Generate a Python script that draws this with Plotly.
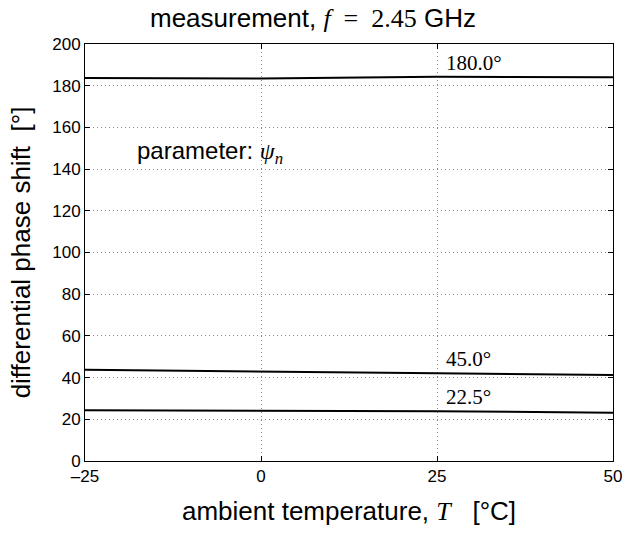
import plotly.graph_objects as go

# Ambient temperature sweep (°C)
temperature = [-25, 0, 25, 50]

# Measured differential phase shift (degrees) for each nominal setting psi_n
phase_180 = [183.7, 183.4, 184.3, 184.0]
phase_45 = [43.8, 42.8, 42.1, 41.3]
phase_22 = [24.4, 24.1, 23.9, 23.1]

series = [
    ("180.0°", phase_180),
    ("45.0°", phase_45),
    ("22.5°", phase_22),
]

x_ticks = [-25, 0, 25, 50]
x_tick_text = ["–25", "0", "25", "50"]
y_ticks = list(range(0, 201, 20))

SANS = "Liberation Sans, Arial, sans-serif"
SERIF = "Liberation Serif, Times New Roman, serif"

fig = go.Figure()
for name, vals in series:
    fig.add_trace(go.Scatter(
        x=temperature, y=vals, mode="lines", name=name,
        line=dict(color="black", width=2), showlegend=False,
    ))
    # value label sitting just above the curve, right of the 25 °C grid line
    fig.add_annotation(
        x=26, y=vals[2], text=name, showarrow=False,
        xanchor="left", yanchor="middle", yshift=14,
        font=dict(family=SERIF, size=21, color="black"),
    )

fig.add_annotation(
    x=-17.9, y=148,
    text=("parameter: <span style='font-family:Liberation Serif'><i>ψ</i>"
          "<sub><i>n</i></sub></span>"),
    showarrow=False, xanchor="left", yanchor="middle",
    font=dict(family=SANS, size=24, color="black"),
)

axis_common = dict(
    showline=True, linecolor="black", linewidth=1, mirror="ticks",
    ticks="inside", ticklen=5, tickcolor="black",
    showgrid=True, gridcolor="#8c8c8c", griddash="1px,3px", gridwidth=1,
    zeroline=False, automargin=False,
    tickfont=dict(family=SANS, size=17, color="black"),
)

fig.update_xaxes(
    range=[-25, 50], tickvals=x_ticks, ticktext=x_tick_text,
    title=dict(
        text=("ambient temperature, <span style='font-family:Liberation Serif'>"
              "<i>T</i></span>&nbsp;&nbsp;&nbsp;[°C]"),
        font=dict(family=SANS, size=26, color="black"), standoff=16,
    ),
    **axis_common,
)
fig.update_yaxes(
    range=[0, 200], tickvals=y_ticks,
    title=dict(
        text="differential phase shift&nbsp;&nbsp;[°]",
        font=dict(family=SANS, size=26, color="black"), standoff=14,
    ),
    **axis_common,
)

fig.update_layout(
    width=626, height=533,
    margin=dict(l=85, r=13, t=44, b=72),
    paper_bgcolor="white", plot_bgcolor="white",
    title=dict(
        text=("measurement, <span style='font-family:Liberation Serif'>"
              "<i>f</i>&nbsp;&nbsp;=&nbsp;&nbsp;2.45</span> GHz"),
        x=0.5, xanchor="center", y=1 - 18 / 533, yanchor="middle",
        font=dict(family=SANS, size=26, color="black"),
    ),
)

fig.write_html("out.html")
